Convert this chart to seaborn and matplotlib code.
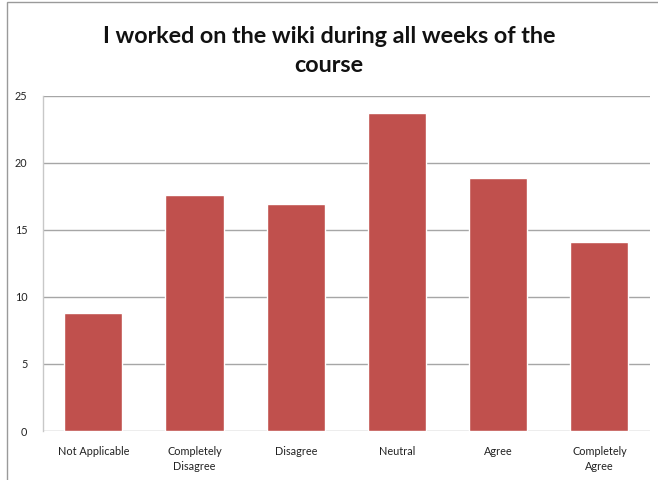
import matplotlib
matplotlib.use("Agg")
import matplotlib.pyplot as plt
import seaborn as sns
import pandas as pd
from matplotlib.patches import Rectangle

categories = ["Not Applicable", "Completely\nDisagree", "Disagree", "Neutral", "Agree", "Completely\nAgree"]
values = [8.8, 17.6, 16.9, 23.7, 18.9, 14.1]
yticks = [0, 5, 10, 15, 20, 25]
title = "I worked on the wiki during all weeks of the\ncourse"

sns.set_theme(style="white")
plt.rcParams['font.family'] = ['Lato', 'DejaVu Sans']

df = pd.DataFrame({"cat": categories, "val": values})

W, H = 658, 480
fig = plt.figure(figsize=(W / 100, H / 100), dpi=100)
left, right, top, bottom = 42.7, 650, 95.7, 431
ax = fig.add_axes([left / W, 1 - bottom / H, (right - left) / W, (bottom - top) / H])

sns.barplot(data=df, x="cat", y="val", color="#C0504D", saturation=1, width=0.575, ax=ax, zorder=3)

ax.set_ylim(0, 25)
ax.set_xlim(-0.5, len(categories) - 0.5)
ax.set_yticks(yticks)
ax.set_yticklabels([str(t) for t in yticks], fontsize=7.8, color="#222222")
ax.tick_params(axis="x", labelsize=7.8, colors="#222222", length=0, pad=11)
ax.tick_params(axis="y", length=0, pad=11)
for lbl in ax.get_xticklabels():
    lbl.set_color("#222222")
    lbl.set_linespacing(1.45)
ax.set_xlabel("")
ax.set_ylabel("")
ax.yaxis.grid(True, color="#A6A6A6", linewidth=1.0, zorder=0)
ax.set_axisbelow(True)
for s in ["top", "right", "bottom"]:
    ax.spines[s].set_visible(False)
ax.spines["left"].set_color("#C8C8C8")
ax.spines["left"].set_linewidth(1.0)

fig.text(0.5, 1 - 51 / H, title, ha="center", va="center", fontsize=16.8, fontweight="bold",
         color="#111111", linespacing=1.5)

# outer frame (left and top edges visible)
fig.patches.append(Rectangle((7 / W, -0.1), 1.2, 1 - 2 / H + 0.1, transform=fig.transFigure,
                             fill=False, edgecolor="#9A9A9A", linewidth=1.0))

fig.savefig("out.png", dpi=100)
